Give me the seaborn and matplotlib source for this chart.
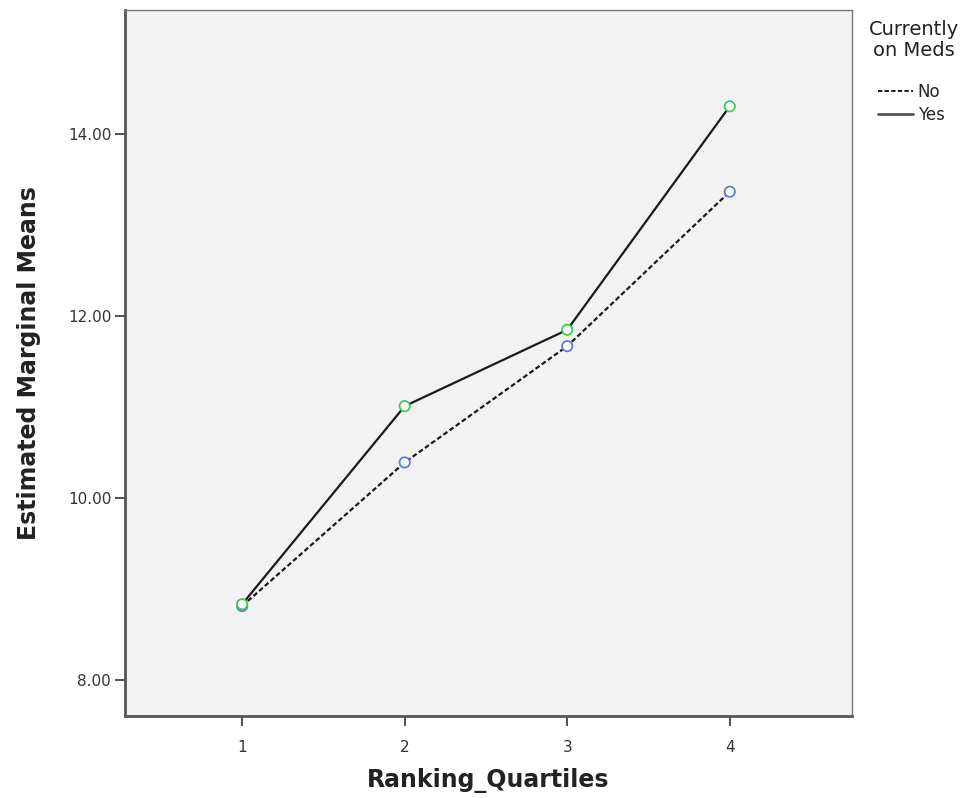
import matplotlib
matplotlib.use("Agg")
import matplotlib.pyplot as plt
from matplotlib.lines import Line2D
import seaborn as sns
import pandas as pd

quartiles = [1, 2, 3, 4]
no_meds = [8.81, 10.39, 11.67, 13.37]
yes_meds = [8.83, 11.01, 11.85, 14.31]
group_labels = ["No", "Yes"]
y_ticks = [8.0, 10.0, 12.0, 14.0]

df = pd.DataFrame({
    "Ranking_Quartiles": quartiles * 2,
    "Mean": no_meds + yes_meds,
    "Meds": [group_labels[0]] * 4 + [group_labels[1]] * 4,
})

sns.set_style("white")
plt.rcParams["font.family"] = ["DejaVu Sans"]

fig = plt.figure(figsize=(9.7, 7.98), dpi=100)
ax = fig.add_axes([0.129, 0.1028, 0.749, 0.8847])
ax.set_facecolor("#F2F2F2")

sns.lineplot(data=df, x="Ranking_Quartiles", y="Mean", style="Meds",
             style_order=["Yes", "No"], dashes={"No": (2.2, 1.2), "Yes": ""},
             color="#1a1a1a", linewidth=1.6, ax=ax, legend=False)

sns.scatterplot(data=df, x="Ranking_Quartiles", y="Mean", hue="Meds",
                palette={"No": "#5B7FD3", "Yes": "#40C85A"},
                marker="o", s=55, facecolor="white", linewidth=1.3,
                ax=ax, legend=False, zorder=5)
for coll in ax.collections:
    fc = coll.get_facecolors()
    coll.set_edgecolors(fc)
    coll.set_facecolors("white")

ax.set_xlim(0.28, 4.75)
ax.set_ylim(7.60, 15.37)
ax.set_xticks(quartiles)
ax.set_xticklabels([str(q) for q in quartiles])
ax.set_yticks(y_ticks)
ax.set_yticklabels([f"{t:.2f}" for t in y_ticks])
ax.tick_params(axis="both", labelsize=11, colors="#333333", length=7, width=1.2,
               direction="out", left=True, bottom=True)
ax.tick_params(axis="x", pad=10)
ax.tick_params(axis="y", pad=3)
for side, sp in ax.spines.items():
    sp.set_visible(True)
    if side in ("left", "bottom"):
        sp.set_color("#555555")
        sp.set_linewidth(2.0)
    else:
        sp.set_color("#777777")
        sp.set_linewidth(1.0)

ax.set_xlabel("Ranking_Quartiles", fontsize=17, fontweight="bold", color="#222222", labelpad=10)
ax.set_ylabel("Estimated Marginal Means", fontsize=17, fontweight="bold", color="#222222", labelpad=19)

fig.text(0.942, 0.975, "Currently\non Meds", ha="center", va="top",
         fontsize=14, color="#222222", linespacing=1.15)

handles = [Line2D([0], [0], color="#1a1a1a", linestyle=(0, (2.2, 1.2)), linewidth=1.4),
           Line2D([0], [0], color="#555555", linewidth=2.0)]
leg = fig.legend(handles, group_labels,
                 loc="upper left", bbox_to_anchor=(0.905, 0.896),
                 frameon=False, fontsize=12,
                 handlelength=2.1, handletextpad=0.3, labelspacing=0.3,
                 borderpad=0, borderaxespad=0)

fig.savefig("out.png", dpi=100, facecolor="white")
